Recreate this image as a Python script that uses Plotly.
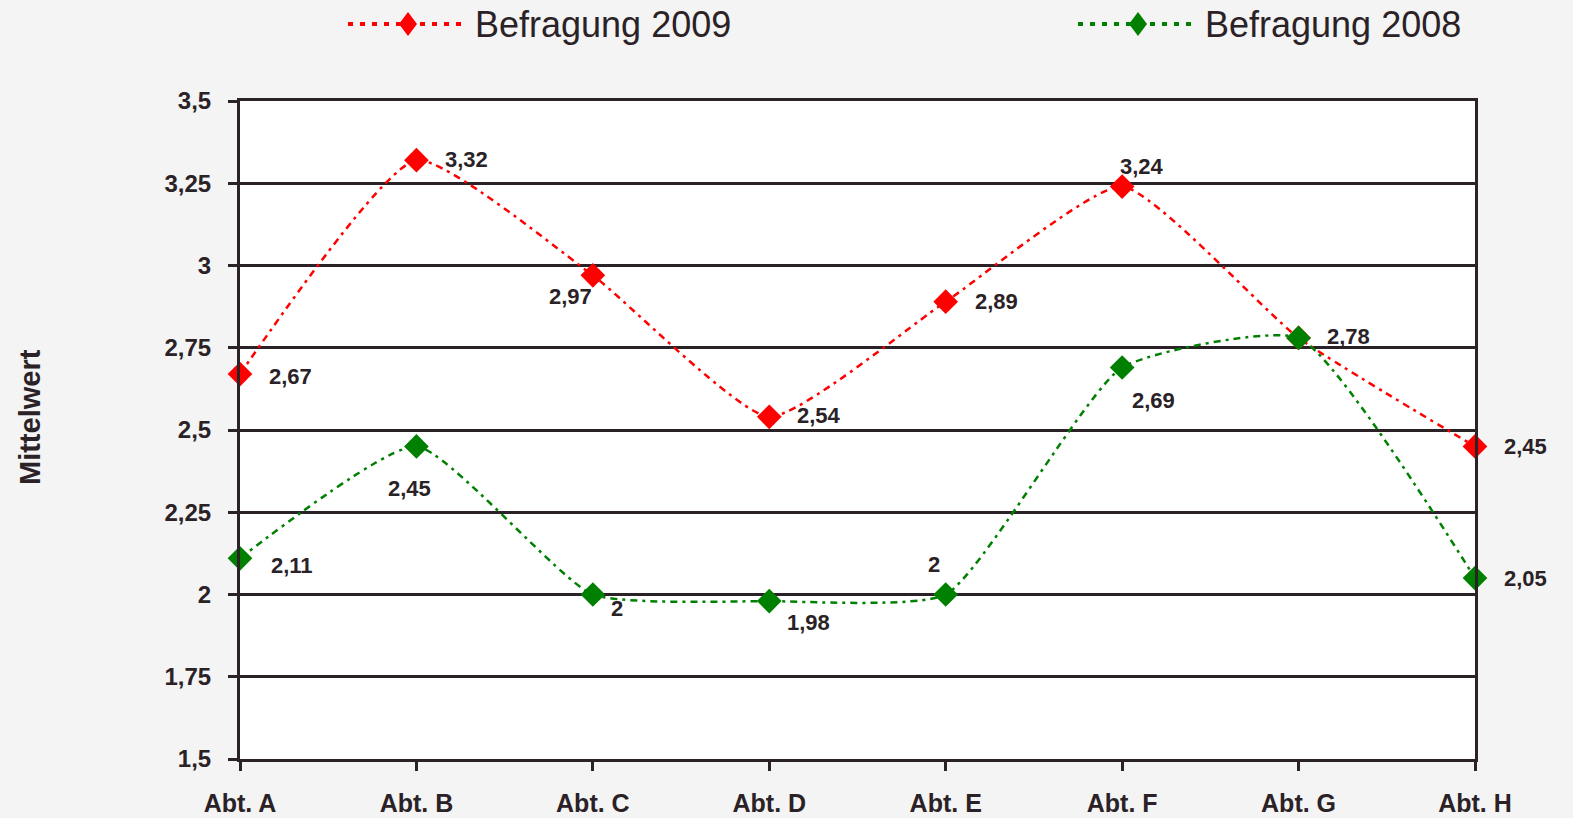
import plotly.graph_objects as go

# Departments and mean scores per survey year
departments = ["Abt. A", "Abt. B", "Abt. C", "Abt. D", "Abt. E", "Abt. F", "Abt. G", "Abt. H"]
survey_2009 = [2.67, 3.32, 2.97, 2.54, 2.89, 3.24, 2.78, 2.45]
survey_2008 = [2.11, 2.45, 2.00, 1.98, 2.00, 2.69, 2.78, 2.05]

y_ticks = [1.5, 1.75, 2.0, 2.25, 2.5, 2.75, 3.0, 3.25, 3.5]
y_tick_text = ["1,5", "1,75", "2", "2,25", "2,5", "2,75", "3", "3,25", "3,5"]

# Label offsets (px) for each data label: (xshift, yshift)
label_pos_2009 = [(27, -2), (27, 1), (-46, -21), (26, 1), (27, 0), (-4, 20), None, (27, 0)]
label_pos_2008 = [(29, -7), (-30, -42), (16, -14), (16, -21), (-20, 30), (8, -33), (26, 1), (27, 0)]

RED = "#ff0000"
GREEN = "#008000"
INK = "#2a2226"
FONT = "Liberation Sans, Arial"
W, H = 1573, 818
L, R, T, B = 240, 98, 101, 59
PW, PH = W - L - R, H - T - B


def px_x(px):
    """Page pixel column -> paper coordinate."""
    return (px - L) / PW


def px_y(py):
    """Page pixel row -> paper coordinate."""
    return (H - B - py) / PH


def fmt(v):
    s = f"{v:.2f}".rstrip("0").rstrip(".")
    return s.replace(".", ",")


x_idx = list(range(len(departments)))
fig = go.Figure()

for vals, color in [(survey_2009, RED), (survey_2008, GREEN)]:
    fig.add_trace(go.Scatter(
        x=x_idx, y=vals, mode="lines+markers",
        line=dict(color=color, width=2.5, dash="7px,5px,3px,5px", shape="spline", smoothing=0.5),
        marker=dict(symbol="diamond", size=19, color=color),
        cliponaxis=False, showlegend=False, hoverinfo="skip",
    ))

annotations = []
for vals, positions in [(survey_2009, label_pos_2009), (survey_2008, label_pos_2008)]:
    for i, (v, p) in enumerate(zip(vals, positions)):
        if p is None:
            continue
        dx, dy = p
        annotations.append(dict(
            x=i, y=v, xref="x", yref="y", text=fmt(v), showarrow=False,
            xanchor="left", yanchor="middle", xshift=dx, yshift=dy,
            font=dict(family=FONT, size=22, color=INK, weight="bold"),
        ))

# Legend drawn by hand at the top of the page
shapes = []
legend_items = [("Befragung 2009", RED, 348, 465, 408, 473), ("Befragung 2008", GREEN, 1078, 1195, 1138, 1203)]
ly = 24
for name, color, x0, x1, xm, xt in legend_items:
    shapes.append(dict(
        type="line", xref="paper", yref="paper",
        x0=px_x(x0), x1=px_x(x1), y0=px_y(ly), y1=px_y(ly),
        line=dict(color=color, width=4, dash="5px,7px"),
    ))
    hw, hh = 9, 12
    shapes.append(dict(
        type="path", xref="paper", yref="paper",
        path=(f"M{px_x(xm - hw)},{px_y(ly)} L{px_x(xm)},{px_y(ly - hh)} "
              f"L{px_x(xm + hw)},{px_y(ly)} L{px_x(xm)},{px_y(ly + hh)} Z"),
        fillcolor=color, line=dict(width=0),
    ))
    annotations.append(dict(
        x=px_x(xt), y=px_y(ly + 1), xref="paper", yref="paper", text=name, showarrow=False,
        xanchor="left", yanchor="middle",
        font=dict(family=FONT, size=36, color=INK),
    ))

annotations.append(dict(
    x=px_x(30), y=px_y(417), xref="paper", yref="paper", text="Mittelwert", showarrow=False,
    textangle=-90, xanchor="center", yanchor="middle",
    font=dict(family=FONT, size=29, color=INK, weight="bold"),
))

fig.update_layout(
    width=W, height=H,
    margin=dict(l=L, r=R, t=T, b=B, autoexpand=False),
    paper_bgcolor="#f4f4f4",
    plot_bgcolor="#ffffff",
    annotations=annotations,
    shapes=shapes,
    xaxis=dict(
        range=[0, len(departments) - 1],
        tickmode="array", tickvals=x_idx, ticktext=departments,
        ticks="outside", ticklen=9, tickwidth=3, tickcolor=INK,
        showgrid=False, zeroline=False,
        showline=True, linecolor=INK, linewidth=3, mirror=True,
        tickfont=dict(family=FONT, size=25, color=INK, weight="bold"),
        ticklabelstandoff=11,
        fixedrange=True,
    ),
    yaxis=dict(
        range=[1.5, 3.5],
        tickmode="array", tickvals=y_ticks, ticktext=y_tick_text,
        ticks="outside", ticklen=9, tickwidth=3, tickcolor=INK,
        showgrid=True, gridcolor=INK, gridwidth=2.5, zeroline=False,
        showline=True, linecolor=INK, linewidth=3, mirror=True,
        tickfont=dict(family=FONT, size=24, color=INK, weight="bold"),
        ticklabelstandoff=12,
        fixedrange=True,
    ),
)

fig.write_html("out.html")
